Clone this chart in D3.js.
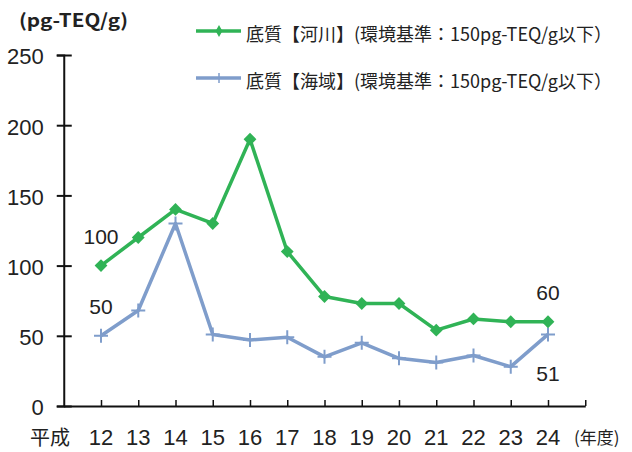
<!DOCTYPE html>
<html>
<head>
<meta charset="utf-8">
<script src="https://cdn.jsdelivr.net/npm/d3@7"></script>
<style>
  body { margin: 0; background: #fff; }
  text { fill: #222; }
</style>
</head>
<body>
<div id="chart"></div>
<script>
// 年度 (平成)
const years = ['12', '13', '14', '15', '16', '17', '18', '19', '20', '21', '22', '23', '24'];
// 底質【河川】
const river = [100, 120, 140, 130, 190, 110, 78, 73, 73, 54, 62, 60, 60];
// 底質【海域】
const sea = [50, 68, 130, 51, 47, 49, 35, 45, 34, 31, 36, 28, 51];
const yTicks = [0, 50, 100, 150, 200, 250];
const legendNames = ['底質【河川】(環境基準：150pg-TEQ/g以下）', '底質【海域】(環境基準：150pg-TEQ/g以下）'];

const width = 632, height = 452;
const green = '#30b356', blue = '#7f9dcb';
const numFont = '"Liberation Sans", Arial, sans-serif';
const jpFont = '"Noto Sans CJK JP", sans-serif';

const svg = d3.select('#chart').append('svg')
  .attr('width', width).attr('height', height);

// x: index 0 is the y axis, years sit at 1..13, axis ends at 14
const x = d3.scaleLinear().domain([0, years.length + 1]).range([63.75, 585.25]);
const y = d3.scaleLinear().domain([0, 250]).range([406, 55]);

// y axis with crossing ticks
const yAxis = svg.append('g')
  .attr('transform', `translate(${x(0)},0)`)
  .call(d3.axisLeft(y).tickValues(yTicks).tickSize(7).tickPadding(13));
yAxis.select('.domain').attr('stroke', '#111').attr('stroke-width', 2);
yAxis.selectAll('.tick line').attr('x1', 8).attr('x2', -7).attr('stroke', '#111').attr('stroke-width', 2);
yAxis.selectAll('.tick text')
  .attr('font-family', numFont).attr('font-size', 22).attr('fill', '#222')
  .attr('dy', '0.40em');

// x axis, ticks point up
const xAxis = svg.append('g')
  .attr('transform', `translate(0,${y(0)})`)
  .call(d3.axisBottom(x).tickValues(d3.range(1, years.length + 2)).tickSize(-6).tickSizeOuter(0).tickFormat(''));
xAxis.select('.domain').attr('stroke', '#111').attr('stroke-width', 2);
xAxis.selectAll('.tick line').attr('stroke', '#111').attr('stroke-width', 1.5);

svg.append('g').selectAll('text')
  .data(years).enter().append('text')
  .attr('x', (d, i) => x(i + 1))
  .attr('y', 445)
  .attr('text-anchor', 'middle')
  .attr('font-family', numFont).attr('font-size', 22)
  .text(d => d);

svg.append('text').attr('x', 50).attr('y', 445).attr('text-anchor', 'middle')
  .attr('font-family', jpFont).attr('font-size', 20).text('平成');
svg.append('text').attr('x', 574).attr('y', 444)
  .attr('font-family', jpFont).attr('font-size', 17)
  .text('(年度)');

// unit title
svg.append('text').attr('x', 19).attr('y', 27)
  .attr('font-family', jpFont).attr('font-size', 18).attr('font-weight', 'bold')
  .attr('textLength', 109).attr('lengthAdjust', 'spacingAndGlyphs')
  .text('(pg-TEQ/g)');

const line = d3.line().x((d, i) => x(i + 1)).y(d => y(d));

svg.append('path').datum(sea)
  .attr('d', line).attr('fill', 'none').attr('stroke', blue).attr('stroke-width', 3.5)
  .attr('stroke-linejoin', 'round');
svg.append('g').selectAll('path')
  .data(sea).enter().append('path')
  .attr('d', 'M-7,0H7M0,-7V7')
  .attr('transform', (d, i) => `translate(${x(i + 1)},${y(d)})`)
  .attr('stroke', blue).attr('stroke-width', 2).attr('fill', 'none');

svg.append('path').datum(river)
  .attr('d', line).attr('fill', 'none').attr('stroke', green).attr('stroke-width', 3.5)
  .attr('stroke-linejoin', 'round');
svg.append('g').selectAll('path')
  .data(river).enter().append('path')
  .attr('d', d3.symbol(d3.symbolSquare, 82))
  .attr('transform', (d, i) => `translate(${x(i + 1)},${y(d)}) rotate(45)`)
  .attr('fill', green);

// data labels at first and last points
const labels = [
  { i: 0, v: river[0], dy: -29 },
  { i: 0, v: sea[0], dy: -29 },
  { i: years.length - 1, v: river[years.length - 1], dy: -29 },
  { i: years.length - 1, v: sea[years.length - 1], dy: 40 }
];
svg.append('g').selectAll('text')
  .data(labels).enter().append('text')
  .attr('x', d => x(d.i + 1))
  .attr('y', d => y(d.v) + d.dy + 7)
  .attr('text-anchor', 'middle')
  .attr('font-family', numFont).attr('font-size', 21)
  .text(d => Math.round(d.v));

// legend
const legend = svg.append('g');
[[green, 31], [blue, 78]].forEach(([c, ly], k) => {
  legend.append('line').attr('x1', 196).attr('x2', 241).attr('y1', ly).attr('y2', ly)
    .attr('stroke', c).attr('stroke-width', 3.5);
  if (k === 0) {
    legend.append('path').attr('d', d3.symbol(d3.symbolDiamond, 40))
      .attr('transform', `translate(219,${ly})`).attr('fill', c);
  } else {
    legend.append('path').attr('d', 'M0,-5V5').attr('transform', `translate(219,${ly})`)
      .attr('stroke', c).attr('stroke-width', 1.5);
  }
  legend.append('text').attr('x', 246).attr('y', ly + 10)
    .attr('font-family', jpFont).attr('font-size', 18)
    .attr('textLength', 366).attr('lengthAdjust', 'spacingAndGlyphs')
    .text(legendNames[k]);
});
</script>
</body>
</html>
